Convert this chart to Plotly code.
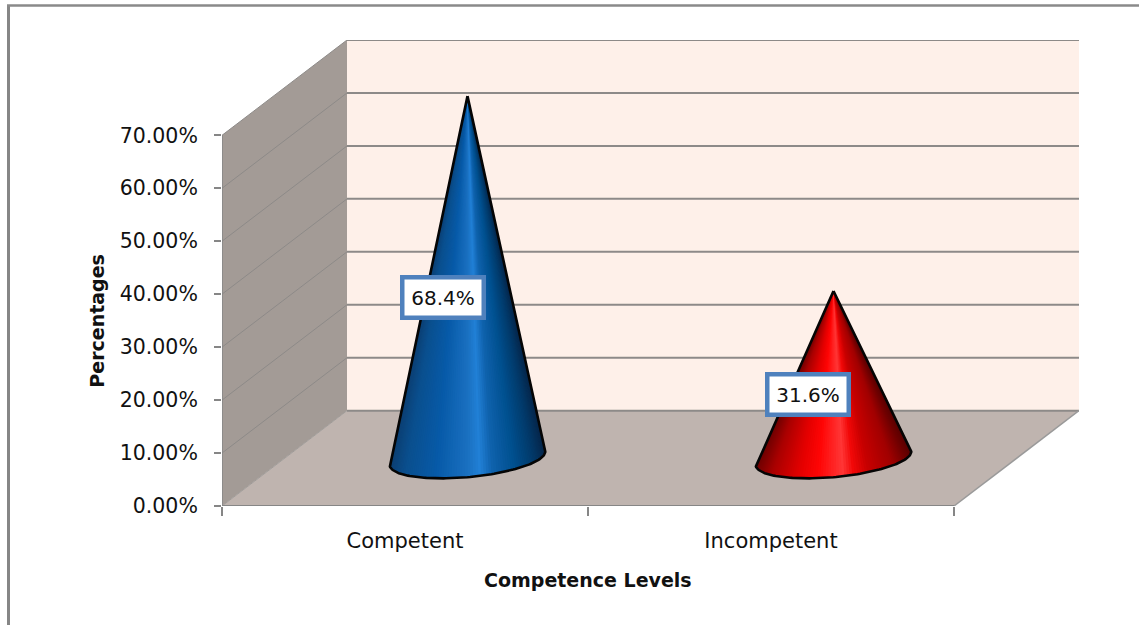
import math
import plotly.graph_objects as go

# Chart values
categories = ["Competent", "Incompetent"]
percentages = [68.4, 31.6]
value_ticks = [0, 10, 20, 30, 40, 50, 60, 70]
value_tick_labels = ["0.00%", "10.00%", "20.00%", "30.00%", "40.00%", "50.00%", "60.00%", "70.00%"]
label_x = [0.6025, 1.601]
label_y = [39.46, 21.05]

# Oblique projection: moving one full depth unit shifts a point by this much
DEPTH_X = 125 / 366
DEPTH_Y = 18.0
N_CAT = len(categories)
AXIS_TOP = value_ticks[-1]

# Cone base proportions, in category and depth units
BASE_RX = 0.2
BASE_RD = 0.21
N_STRIPS = 90

BLUE_RAMP = [(0, "#0c3f72"), (0.1, "#0a4f8e"), (0.3, "#075aa8"), (0.5, "#1a70c0"), (0.58, "#2180d6"),
             (0.66, "#0f62ad"), (0.8, "#00508f"), (0.92, "#023a6b"), (1, "#06264a")]
RED_RAMP = [(0, "#6e0000"), (0.1, "#a80000"), (0.28, "#e40000"), (0.4, "#ff0505"), (0.56, "#ff3636"),
            (0.63, "#f20808"), (0.72, "#c80000"), (0.88, "#a00000"), (1, "#5a0000")]
RAMPS = [BLUE_RAMP, RED_RAMP]

WALL_SIDE = "#a39b96"
WALL_BACK = "#fef0e9"
FLOOR = "#bfb4af"
GRID = "#8d8a88"
AXIS = "#868686"
TEXT = "#111111"
FONT = "DejaVu Sans"


def project(x, value, depth):
    return x + depth * DEPTH_X, value + depth * DEPTH_Y


def hex_rgb(c):
    return tuple(int(c[i:i + 2], 16) for i in (1, 3, 5))


def ramp_color(ramp, u):
    for (u0, c0), (u1, c1) in zip(ramp, ramp[1:]):
        if u <= u1:
            f = (u - u0) / (u1 - u0)
            a, b = hex_rgb(c0), hex_rgb(c1)
            return "rgb(%d,%d,%d)" % tuple(round(a[i] + (b[i] - a[i]) * f) for i in range(3))
    return ramp[-1][1]


fig = go.Figure()


def polygon(corners, color):
    xs, ys = zip(*corners)
    fig.add_trace(go.Scatter(x=list(xs) + [xs[0]], y=list(ys) + [ys[0]], mode="lines", fill="toself",
                             fillcolor=color, line=dict(width=0), hoverinfo="skip", cliponaxis=False))


def segment(p, q, color, width):
    fig.add_trace(go.Scatter(x=[p[0], q[0]], y=[p[1], q[1]], mode="lines",
                             line=dict(color=color, width=width), hoverinfo="skip", cliponaxis=False))


# Walls and floor
polygon([project(0, 0, 0), project(0, AXIS_TOP, 0), project(0, AXIS_TOP, 1), project(0, 0, 1)], WALL_SIDE)
polygon([project(0, 0, 1), project(0, AXIS_TOP, 1), project(N_CAT, AXIS_TOP, 1), project(N_CAT, 0, 1)], WALL_BACK)
polygon([project(0, 0, 0), project(0, 0, 1), project(N_CAT, 0, 1), project(N_CAT, 0, 0)], FLOOR)

# Gridlines run along the side wall and across the back wall
for v in value_ticks:
    if v > 0:
        segment(project(0, v, 0), project(0, v, 1), GRID, 1)
    segment(project(0, v, 1), project(N_CAT, v, 1), GRID, 2)
segment(project(0, 0, 0), project(0, 0, 1), "#a09c99", 1)
segment(project(N_CAT, 0, 0), project(N_CAT, 0, 1), "#9a9a9a", 1.5)

# Axis lines
segment(project(0, 0, 0), project(N_CAT, 0, 0), AXIS, 2)
segment(project(0, 0, 0), project(0, AXIS_TOP, 0), AXIS, 1.5)


# Cones: overlapping fans painted left to right, so no background shows between
# neighbouring shades, then a black outline
def draw_cone(index, value, ramp):
    cx, cy = project(index + 0.5, 0, 0.5)
    ax, ay = cx, cy + value
    bx = BASE_RD * DEPTH_X
    by = BASE_RD * DEPTH_Y
    start = math.pi + math.atan2(bx, BASE_RX)
    angles = [start + math.pi * i / N_STRIPS for i in range(N_STRIPS + 1)]
    rim = [(cx + BASE_RX * math.cos(t) + bx * math.sin(t), cy + by * math.sin(t)) for t in angles]
    left, right = rim[0][0], rim[-1][0]
    for i in range(N_STRIPS):
        color = ramp_color(ramp, ((rim[i][0] + rim[i + 1][0]) / 2 - left) / (right - left))
        fan = rim[i:]
        fig.add_trace(go.Scatter(x=[ax] + [p[0] for p in fan] + [ax], y=[ay] + [p[1] for p in fan] + [ay],
                                 mode="lines", fill="toself", fillcolor=color, line=dict(width=0),
                                 hoverinfo="skip"))
    outline = [(ax, ay)] + rim + [(ax, ay)]
    fig.add_trace(go.Scatter(x=[p[0] for p in outline], y=[p[1] for p in outline], mode="lines",
                             line=dict(color="#050505", width=2.6), hoverinfo="skip"))


for i, (val, ramp) in enumerate(zip(percentages, RAMPS)):
    draw_cone(i, val, ramp)

# Value labels
for x, y, val in zip(label_x, label_y, percentages):
    fig.add_annotation(x=x, y=y, xref="x", yref="y", text=f"{val}%", showarrow=False,
                       font=dict(family=FONT, size=20, color=TEXT), bgcolor="white",
                       bordercolor="#4f81bd", borderwidth=4.5, borderpad=3, width=71, height=30)

# Axis titles
fig.add_annotation(x=1, y=0, xref="x", yref="y", yshift=-74, text="<b>Competence Levels</b>", showarrow=False,
                   font=dict(family=FONT, size=19, color=TEXT))
fig.add_annotation(x=0, y=35, xref="x", yref="y", xshift=-125, text="<b>Percentages</b>", textangle=-90,
                   showarrow=False, font=dict(family=FONT, size=19, color=TEXT))

# Page frame along the left and top edges
PLOT_L, PLOT_R, PLOT_T, PLOT_B = 222, 1079, 40, 506
page_x = lambda px: (px - PLOT_L) / (PLOT_R - PLOT_L)
page_y = lambda py: (PLOT_B - py) / (PLOT_B - PLOT_T)
fig.add_shape(type="line", xref="paper", yref="paper", x0=page_x(8.5), x1=page_x(8.5), y0=page_y(625), y1=page_y(5),
              line=dict(color="#868686", width=3))
fig.add_shape(type="line", xref="paper", yref="paper", x0=page_x(7), x1=page_x(1139), y0=page_y(5.5), y1=page_y(5.5),
              line=dict(color="#8a8a8a", width=2.5))

fig.update_layout(
    width=1139, height=625, autosize=False, showlegend=False,
    paper_bgcolor="white", plot_bgcolor="white",
    margin=dict(l=PLOT_L, r=1139 - PLOT_R, t=PLOT_T, b=625 - PLOT_B, pad=0),
    xaxis=dict(range=[0, N_CAT + DEPTH_X], showgrid=False, zeroline=False, showline=False,
               tickmode="array", tickvals=[i + 0.5 for i in range(N_CAT)], ticktext=categories,
               ticks="outside", ticklen=0, tickwidth=0, ticklabelstandoff=16,
               tickfont=dict(family=FONT, size=21, color=TEXT),
               minor=dict(tickmode="linear", tick0=0, dtick=1, ticks="outside", ticklen=9, tickwidth=2,
                          tickcolor=AXIS, showgrid=False)),
    yaxis=dict(range=[0, AXIS_TOP + DEPTH_Y], showgrid=False, zeroline=False, showline=False,
               tickmode="array", tickvals=value_ticks, ticktext=value_tick_labels,
               ticks="outside", ticklen=7, tickwidth=2, tickcolor=AXIS, ticklabelstandoff=12,
               tickfont=dict(family=FONT, size=20.5, color=TEXT)),
)

fig.write_html("out.html")
